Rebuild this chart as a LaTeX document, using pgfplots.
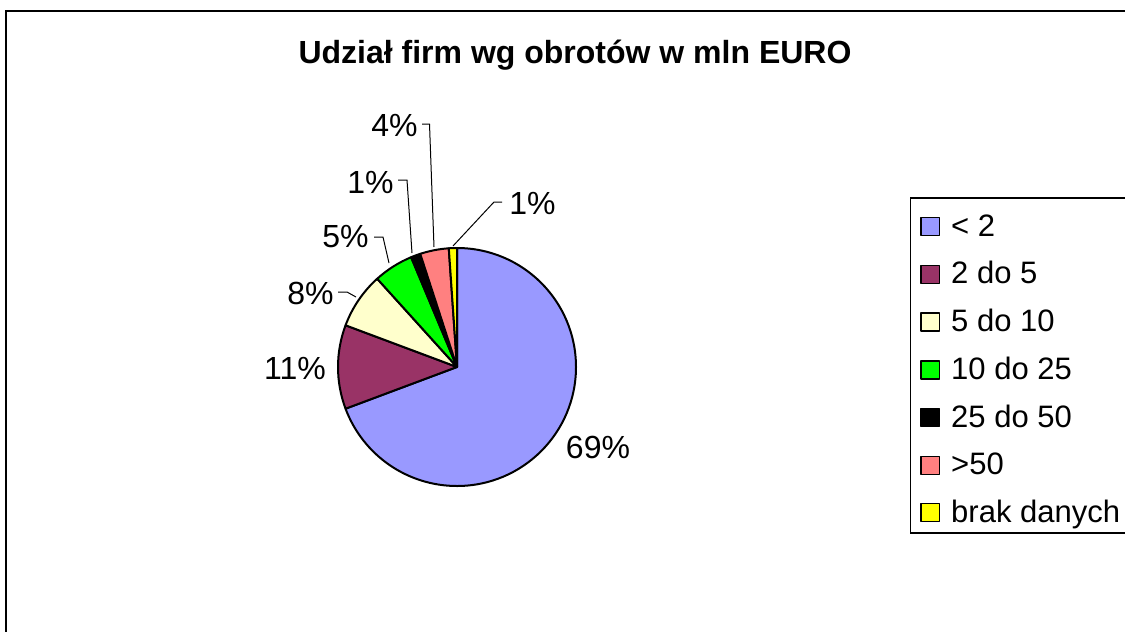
\documentclass[border=0pt]{standalone}
\usepackage{pgfplots}
\pgfplotsset{compat=1.18}
\usepackage{fontspec}
\setmainfont{Liberation Sans}
\definecolor{cA}{HTML}{9999FF}
\definecolor{cB}{HTML}{993366}
\definecolor{cC}{HTML}{FFFFCC}
\definecolor{cD}{HTML}{00FF00}
\definecolor{cE}{HTML}{000000}
\definecolor{cF}{HTML}{FF8080}
\definecolor{cG}{HTML}{FFFF00}
% shares in percent
\def\vA{69.3}\def\vB{11.4}\def\vC{7.6}\def\vD{5.4}\def\vE{1.3}\def\vF{3.9}\def\vG{1.1}
\pgfmathsetmacro\aA{90}
\pgfmathsetmacro\aB{\aA-3.6*\vA}
\pgfmathsetmacro\aC{\aB-3.6*\vB}
\pgfmathsetmacro\aD{\aC-3.6*\vC}
\pgfmathsetmacro\aE{\aD-3.6*\vD}
\pgfmathsetmacro\aF{\aE-3.6*\vE}
\pgfmathsetmacro\aG{\aF-3.6*\vF}
\pgfmathsetmacro\aH{\aG-3.6*\vG}
\def\R{59.5pt}
\newcommand\slice[3]{%
  \addplot[fill=#1,draw=black,line width=1pt,line join=round] coordinates {(457,367)}
    -- ++(#2:\R) arc[start angle=#2,end angle=#3,radius=\R] -- cycle;}
\begin{document}
\begin{tikzpicture}
\begin{axis}[
  width=562.5pt,height=316pt,scale only axis,
  xmin=0,xmax=1125,ymin=0,ymax=632,y dir=reverse,
  hide axis,
  legend cell align=left,
  legend image code/.code={\draw[#1,draw=black,line width=0.6pt] (0pt,-4.5pt) rectangle (9.2pt,4.5pt);\path (12.6pt,0pt);},
  legend style={at={(axis cs:910,198)},anchor=north west,draw=none,fill=none,
    font=\fontsize{15.5}{18}\selectfont,row sep=7.2pt,inner xsep=5pt,inner ysep=6pt},
]
\slice{cA}{\aA}{\aB}
\addlegendentry{< 2}
\slice{cB}{\aB}{\aC}
\addlegendentry{2 do 5}
\slice{cC}{\aC}{\aD}
\addlegendentry{5 do 10}
\slice{cD}{\aD}{\aE}
\addlegendentry{10 do 25}
\slice{cE}{\aE}{\aF}
\addlegendentry{25 do 50}
\slice{cF}{\aF}{\aG}
\addlegendentry{>50}
\slice{cG}{\aG}{\aH}
\addlegendentry{brak danych}
% frame
\draw[line width=1pt] (axis cs:6,640) -- (axis cs:6,11) -- (axis cs:1130,11);
% legend box
\draw[line width=0.6pt] (axis cs:1130,198) -- (axis cs:910.5,198) -- (axis cs:910.5,533) -- (axis cs:1130,533);
% title
\node[font=\fontsize{16}{19}\selectfont\bfseries] at (axis cs:575,55) {Udział firm wg obrotów w mln EURO};
% leader lines
\draw[line width=0.5pt] (axis cs:422,124) -- (axis cs:429.5,124) -- (axis cs:434,247);
\draw[line width=0.5pt] (axis cs:398,180) -- (axis cs:407,180) -- (axis cs:412,253);
\draw[line width=0.5pt] (axis cs:374,237) -- (axis cs:383,237) -- (axis cs:389,263);
\draw[line width=0.5pt] (axis cs:338,292) -- (axis cs:347,292) -- (axis cs:356,297);
\draw[line width=0.5pt] (axis cs:502,202) -- (axis cs:494,202) -- (axis cs:453,246);
% percent labels
\begin{scope}[every node/.style={font=\fontsize{16}{19}\selectfont,inner sep=0pt}]
\node at (axis cs:598,447) {69\%};
\node at (axis cs:295,368) {11\%};
\node[anchor=east] at (axis cs:334,293) {8\%};
\node[anchor=east] at (axis cs:369,237) {5\%};
\node[anchor=east] at (axis cs:394,182) {1\%};
\node[anchor=east] at (axis cs:418,125) {4\%};
\node[anchor=west] at (axis cs:509,203) {1\%};
\end{scope}
\end{axis}
\pgfresetboundingbox
\path[use as bounding box] (current axis.south west) rectangle (current axis.north east);
\end{tikzpicture}
\end{document}
